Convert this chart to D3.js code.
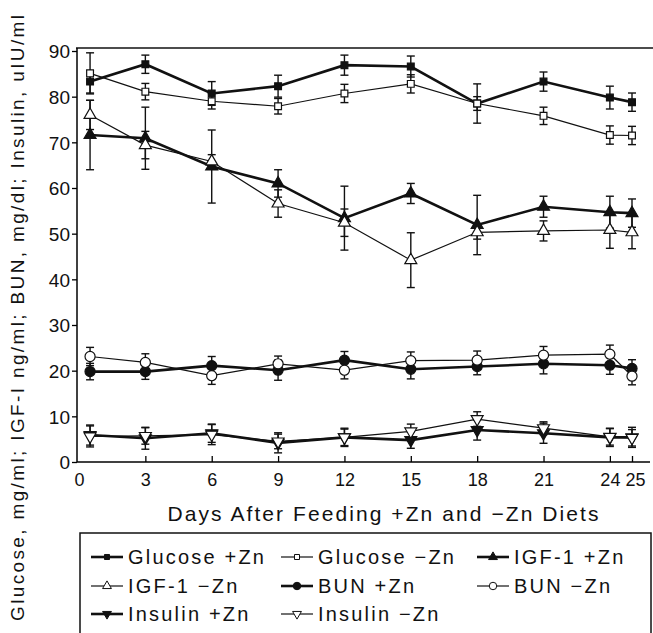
<!DOCTYPE html>
<html>
<head>
<meta charset="utf-8">
<script src="https://cdn.jsdelivr.net/npm/d3@7"></script>
<style>
    body { margin: 0; background: #fff; }
    text { font-family: "Liberation Sans", Arial, sans-serif; fill: #111; }
</style>
</head>
<body>
<svg id="chart" width="653" height="633"></svg>
<script>
// days sampled (first sample plotted just after day 0)
let days = [0.5, 3, 6, 9, 12, 15, 18, 21, 24, 25];
let xTicks = [0, 3, 6, 9, 12, 15, 18, 21, 24, 25];
let yTicks = [0, 10, 20, 30, 40, 50, 60, 70, 80, 90];

let glucosePlus = [83.3, 87.1, 80.7, 82.3, 86.9, 86.6, 78.5, 83.3, 79.8, 78.8];
let glucosePlusErr = [2.5, 2, 2.6, 2.4, 2.2, 2.3, 4.3, 2.1, 2.5, 2];
let glucoseMinus = [85.1, 81.1, 79.0, 77.9, 80.7, 82.8, 78.5, 75.8, 71.6, 71.5];
let glucoseMinusErr = [4.5, 1.8, 1.7, 1.7, 2, 2, 1.5, 1.9, 2, 2];

let igfPlus = [71.6, 70.9, 64.7, 61.0, 53.4, 58.8, 51.9, 55.9, 54.7, 54.5];
let igfPlusErr = [7.6, 6.8, 8, 3, 7, 2.2, 6.5, 2.3, 3.5, 3.1];
let igfMinus = [76.0, 69.4, 65.8, 56.6, 52.4, 44.2, 50.3, 50.6, 50.8, 50.3];
let igfMinusErr = [3.2, 3, 1.5, 3, 3, 6, 1.5, 2.2, 4, 3.6];

let bunPlus = [19.8, 19.8, 21.1, 20.1, 22.3, 20.3, 20.9, 21.5, 21.2, 20.5];
let bunPlusErr = [1.8, 1.7, 2, 2.2, 1.9, 2.1, 1.8, 2.2, 2, 1.9];
let bunMinus = [23.1, 21.8, 18.9, 21.5, 20.1, 22.2, 22.3, 23.4, 23.6, 18.8];
let bunMinusErr = [2, 1.9, 1.9, 1.7, 1.9, 1.9, 2, 1.9, 2, 1.9];

let insulinPlus = [5.9, 5.2, 6.3, 4.2, 5.4, 4.8, 7.0, 6.3, 5.4, 5.4];
let insulinPlusErr = [2.2, 2.4, 2, 2.2, 2, 1.8, 2.2, 2.2, 2, 2.2];
let insulinMinus = [5.6, 5.7, 6.0, 4.5, 5.4, 6.7, 9.4, 7.4, 5.5, 5.3];
let insulinMinusErr = [2.3, 1.8, 2.2, 1.6, 1.8, 1.6, 1.6, 1.4, 1.8, 1.8];

let seriesNames = ["Glucose +Zn", "Glucose \u2212Zn", "IGF-1 +Zn", "IGF-1 \u2212Zn",
    "BUN +Zn", "BUN \u2212Zn", "Insulin +Zn", "Insulin \u2212Zn"];

let series = [
    { name: seriesNames[0], values: glucosePlus, err: glucosePlusErr, shape: "square", filled: true },
    { name: seriesNames[1], values: glucoseMinus, err: glucoseMinusErr, shape: "square", filled: false },
    { name: seriesNames[2], values: igfPlus, err: igfPlusErr, shape: "up", filled: true },
    { name: seriesNames[3], values: igfMinus, err: igfMinusErr, shape: "up", filled: false },
    { name: seriesNames[4], values: bunPlus, err: bunPlusErr, shape: "circle", filled: true },
    { name: seriesNames[5], values: bunMinus, err: bunMinusErr, shape: "circle", filled: false },
    { name: seriesNames[6], values: insulinPlus, err: insulinPlusErr, shape: "down", filled: true },
    { name: seriesNames[7], values: insulinMinus, err: insulinMinusErr, shape: "down", filled: false }
];

let svg = d3.select("#chart");

let x = d3.scaleLinear().domain([0, 25]).range([79, 632]);
let y = d3.scaleLinear().domain([0, 90]).range([462, 51]);

function symbolPath(shape, big) {
    let k = big ? 1 : 0.55;
    if (shape == "square") return d3.symbol(d3.symbolSquare, 46 * k)();
    if (shape == "circle") return d3.symbol(d3.symbolCircle, 80 * k)();
    return d3.symbol(d3.symbolTriangle, 62 * k)();
}

// frame: top border line
svg.append("line")
    .attr("x1", 76).attr("x2", 653)
    .attr("y1", 48).attr("y2", 48)
    .attr("stroke", "#111").attr("stroke-width", 1.5);

// x axis
let xAxis = svg.append("g")
    .attr("transform", "translate(0," + y(0) + ")")
    .call(d3.axisBottom(x).tickValues(xTicks).tickSize(-6).tickPadding(14).tickFormat(d3.format("d")));
xAxis.select(".domain").attr("d", "M77,0H650").attr("stroke-width", 1.5);
xAxis.selectAll(".tick line").attr("stroke-width", 1.3);
xAxis.selectAll(".tick text").attr("font-size", 18).attr("dy", "0.55em");
xAxis.selectAll(".tick").filter(d => d == 0).select("line").remove();
// the last two labels sit close together, push 25 a little right
xAxis.selectAll(".tick").filter(d => d == 25).select("text").attr("dx", 3);

// y axis
let yAxis = svg.append("g")
    .attr("transform", "translate(77,0)")
    .call(d3.axisLeft(y).tickValues(yTicks).tickSize(5).tickPadding(2));
yAxis.select(".domain").attr("d", "M0,48V" + y(0)).attr("stroke-width", 1.5);
yAxis.selectAll(".tick line").attr("stroke-width", 1.3);
yAxis.selectAll(".tick text").attr("font-size", 19).attr("dy", "0.36em");

// axis titles
svg.append("text")
    .attr("x", 383).attr("y", 521)
    .attr("text-anchor", "middle")
    .attr("font-size", 21)
    .attr("textLength", 431)
    .attr("lengthAdjust", "spacing")
    .text("Days After Feeding +Zn and \u2212Zn Diets");

svg.append("text")
    .attr("transform", "translate(24,318) rotate(-90)")
    .attr("text-anchor", "middle")
    .attr("font-size", 19)
    .attr("textLength", 606)
    .attr("lengthAdjust", "spacing")
    .text("Glucose, mg/ml; IGF-I ng/ml; BUN, mg/dl; Insulin, uIU/ml");

// error bars
series.forEach(function(s) {
    let g = svg.append("g")
        .attr("stroke", "#111")
        .attr("stroke-width", 1.4);
    days.forEach(function(d, i) {
        let cx = x(d), lo = y(s.values[i] - s.err[i]), hi = y(s.values[i] + s.err[i]);
        g.append("line").attr("x1", cx).attr("x2", cx).attr("y1", lo).attr("y2", hi);
        g.append("line").attr("x1", cx - 4).attr("x2", cx + 4).attr("y1", lo).attr("y2", lo);
        g.append("line").attr("x1", cx - 4).attr("x2", cx + 4).attr("y1", hi).attr("y2", hi);
    });
});

let line = d3.line()
    .x(function(d) { return x(d[0]); })
    .y(function(d) { return y(d[1]); });

// lines, thin ones (-Zn) first
series.slice().sort(function(a, b) { return a.filled - b.filled; }).forEach(function(s) {
    svg.append("path")
        .datum(days.map(function(d, i) { return [d, s.values[i]]; }))
        .attr("fill", "none")
        .attr("stroke", "#111")
        .attr("stroke-width", s.filled ? 2.6 : 1.2)
        .attr("d", line);
});

// markers
series.forEach(function(s) {
    svg.append("g").selectAll("path")
        .data(days.map(function(d, i) { return [d, s.values[i]]; }))
        .enter()
        .append("path")
        .attr("d", symbolPath(s.shape, true))
        .attr("transform", function(d) {
            return "translate(" + x(d[0]) + "," + y(d[1]) + ")" + (s.shape == "down" ? " rotate(180)" : "");
        })
        .attr("fill", s.filled ? "#111" : "#fff")
        .attr("stroke", "#111")
        .attr("stroke-width", 1.2);
});

// legend
svg.append("rect")
    .attr("x", 80).attr("y", 533)
    .attr("width", 571).attr("height", 200)
    .attr("fill", "none")
    .attr("stroke", "#111")
    .attr("stroke-width", 1.5);

let legendCols = [91, 281, 477];
let legendRows = [557, 586, 614];

series.forEach(function(s, i) {
    let lx = legendCols[i % 3], ly = legendRows[Math.floor(i / 3)];
    let g = svg.append("g").attr("transform", "translate(" + lx + "," + ly + ")");
    g.append("line")
        .attr("x1", 0).attr("x2", 32)
        .attr("stroke", "#111")
        .attr("stroke-width", s.filled ? 2.6 : 1.2);
    g.append("path")
        .attr("d", symbolPath(s.shape, false))
        .attr("transform", "translate(16,0)" + (s.shape == "down" ? " rotate(180)" : ""))
        .attr("fill", s.filled ? "#111" : "#fff")
        .attr("stroke", "#111")
        .attr("stroke-width", 1);
    g.append("text")
        .attr("x", 37).attr("y", 7)
        .attr("font-size", 20)
        .attr("letter-spacing", "2.2px")
        .text(s.name);
});
</script>
</body>
</html>
